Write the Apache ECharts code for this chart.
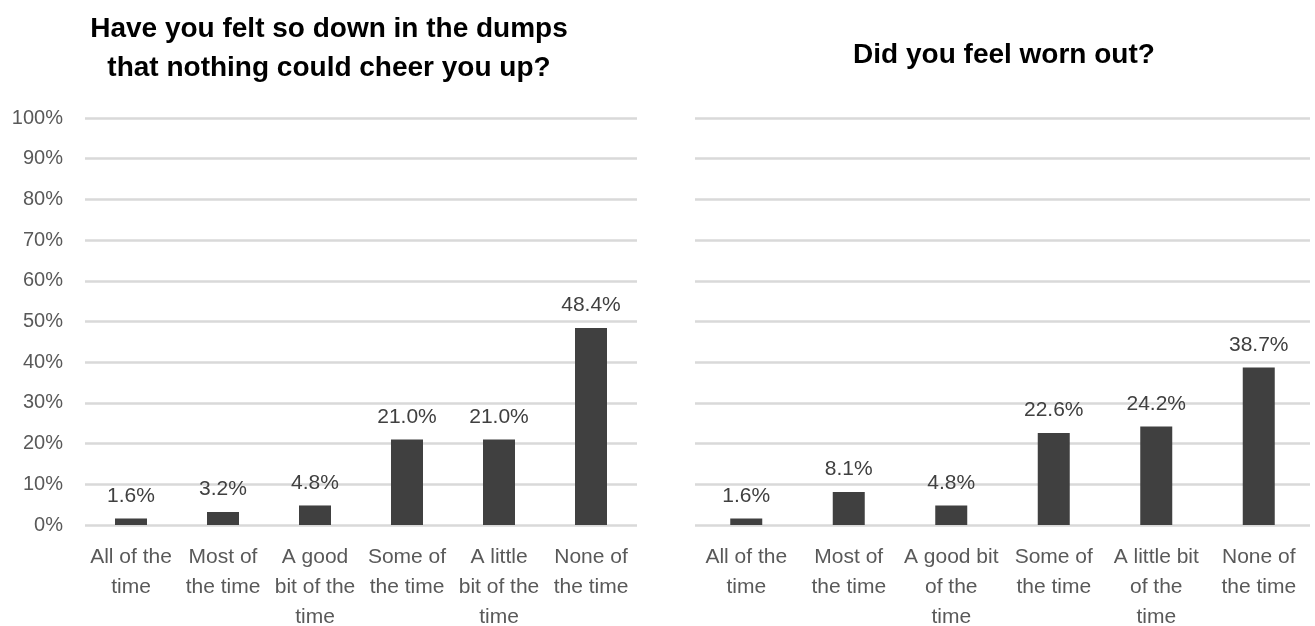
<!DOCTYPE html>
<html><head><meta charset="utf-8">
<script src="https://cdn.jsdelivr.net/npm/echarts@6/dist/echarts.min.js"></script>
<style>html,body{margin:0;padding:0;background:#fff}#c{width:1315px;height:626px}</style>
</head><body><div id="c"></div>
<script>
const titleLeft = "Have you felt so down in the dumps\nthat nothing could cheer you up?";
const titleRight = "Did you feel worn out?";
const categoriesLeft = ["All of the\ntime","Most of\nthe time","A good\nbit of the\ntime","Some of\nthe time","A little\nbit of the\ntime","None of\nthe time"];
const categoriesRight = ["All of the\ntime","Most of\nthe time","A good bit\nof the\ntime","Some of\nthe time","A little bit\nof the\ntime","None of\nthe time"];
const valuesLeft = [1.6, 3.2, 4.8, 21.0, 21.0, 48.4];
const valuesRight = [1.6, 8.1, 4.8, 22.6, 24.2, 38.7];

const FONT = "'Liberation Sans', Arial, sans-serif";
const TXT = '#595959';
const chart = echarts.init(document.getElementById('c'));

function xAxis(idx, cats){
  return {type:'category', gridIndex:idx, data:cats,
    axisLine:{show:false}, axisTick:{show:false},
    axisLabel:{interval:0, color:TXT, fontFamily:FONT, fontSize:21, lineHeight:30, margin:17}};
}
function yAxis(idx, show){
  return {type:'value', gridIndex:idx, min:0, max:100, interval:10,
    axisLine:{show:false}, axisTick:{show:false},
    axisLabel:{show:show, formatter:'{value}%', color:TXT, fontFamily:FONT, fontSize:20, margin:22},
    splitLine:{lineStyle:{color:'#d9d9d9', width:2.5}}};
}
function series(idx, vals){
  return {type:'bar', xAxisIndex:idx, yAxisIndex:idx, data:vals, barWidth:32,
    itemStyle:{color:'#404040'},
    label:{show:true, position:'top', distance:12, color:'#404040', fontFamily:FONT, fontSize:21,
      formatter:p=>p.value.toFixed(1)+'%'}};
}

chart.setOption({
  animation:false,
  textStyle:{fontFamily:FONT},
  title:[
    {text:titleLeft, left:324, top:5, textAlign:'center',
     textStyle:{fontFamily:FONT, fontSize:28, fontWeight:'bold', color:'#000', lineHeight:39}},
    {text:titleRight, left:999, top:36, textAlign:'center',
     textStyle:{fontFamily:FONT, fontSize:28, fontWeight:'bold', color:'#000'}}
  ],
  grid:[
    {left:85, right:678, top:118, bottom:101, outerBoundsMode:'none'},
    {left:695, right:5, top:118, bottom:101, outerBoundsMode:'none'}
  ],
  xAxis:[xAxis(0, categoriesLeft), xAxis(1, categoriesRight)],
  yAxis:[yAxis(0, true), yAxis(1, false)],
  series:[series(0, valuesLeft), series(1, valuesRight)]
});
</script></body></html>
